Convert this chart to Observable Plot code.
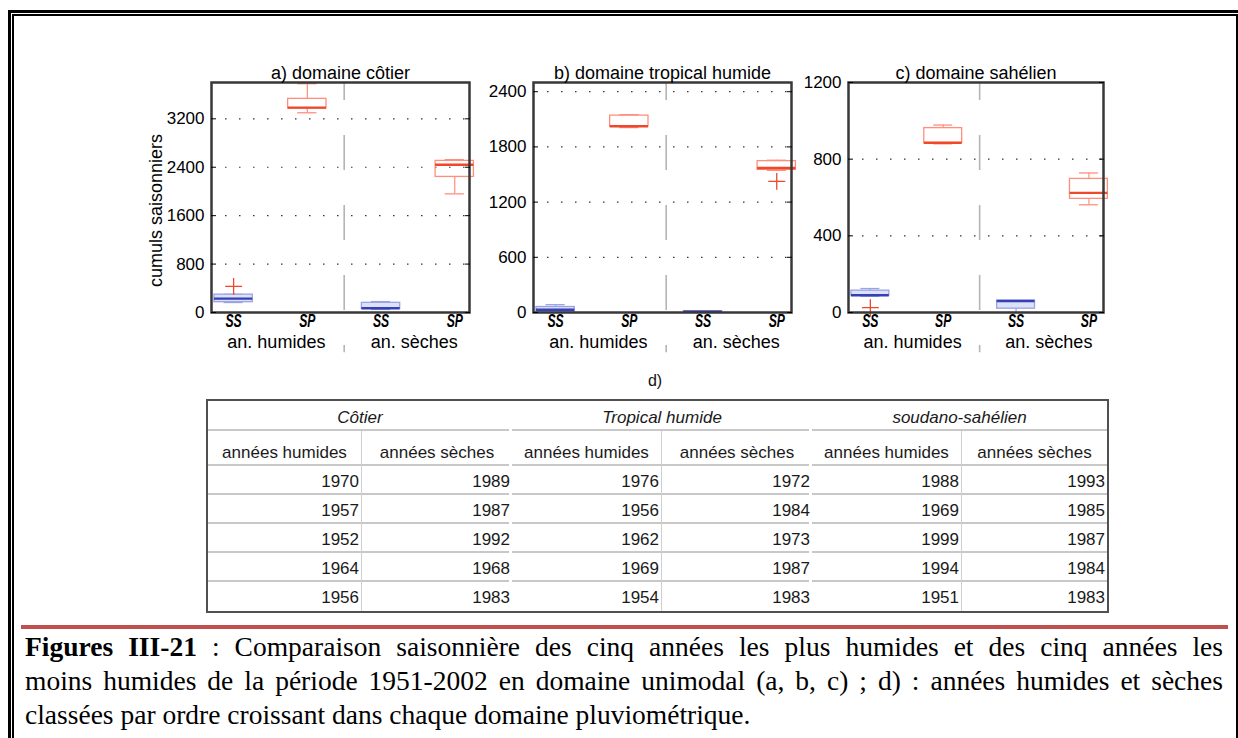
<!DOCTYPE html>
<html><head><meta charset="utf-8">
<script src="https://cdn.jsdelivr.net/npm/d3@7"></script>
<script src="https://cdn.jsdelivr.net/npm/@observablehq/plot@0.6"></script>
<style>
html,body{margin:0;padding:0;background:#fff;}
body{width:1238px;height:738px;position:relative;overflow:hidden;font-family:"Liberation Sans",Arial,sans-serif;}
.b{position:absolute;background:#000;}
.panel{position:absolute;top:55px;}
#dlabel{position:absolute;left:630px;top:372px;width:50px;text-align:center;font-size:16px;color:#111;}
table.t{position:absolute;left:206px;top:399px;border-collapse:separate;border-spacing:0;border:2.5px solid #505050;font-size:17px;color:#1a1a1a;table-layout:fixed;}
table.t td{padding:0 3px 3px 3px;vertical-align:bottom;white-space:nowrap;
  background-image:linear-gradient(#c8c8c8,#c8c8c8);background-repeat:no-repeat;background-size:100% 2px;background-position:left bottom;}
table.t td.ge{background-size:calc(100% - 3px) 2px;}
table.t td.h{border-right:1.5px solid #cfcfcf;}
table.t tr.last td{background-image:none;}
table.t tr.grp td{font-style:italic;text-align:center;height:27px;}
table.t tr.sub td{text-align:center;height:32px;}
table.t tr.dat td{text-align:right;height:26px;padding-right:2px;}
#redline{position:absolute;left:21px;top:625px;width:1207px;height:3.5px;background:#c0504d;}
#caption{position:absolute;left:25px;top:630px;width:1198px;font-family:"Liberation Serif","Times New Roman",serif;font-size:27.5px;line-height:34px;color:#000;}
#caption div{text-align:justify;text-align-last:justify;white-space:nowrap;}
#caption div.l3{text-align-last:left;}
</style></head><body>
<div class="b" style="left:8px;top:10px;width:1230px;height:2.5px"></div>
<div class="b" style="left:8px;top:10px;width:2.5px;height:728px"></div>
<div class="b" style="left:12px;top:14px;width:1226px;height:2px"></div>
<div class="b" style="left:12px;top:14px;width:2px;height:724px"></div>
<div class="b" style="left:1236px;top:14px;width:2px;height:724px"></div>

<div id="pa" class="panel" style="left:130px"></div>
<div id="pb" class="panel" style="left:480px"></div>
<div id="pc" class="panel" style="left:800px"></div>

<div id="dlabel">d)</div>
<table class="t" id="tbl"></table>

<div id="redline"></div>
<div id="caption"></div>

<script>
// ---------- data ----------
const boxCategories = ["SS", "SP", "SS", "SP"];
const groupLabels = ["an. humides", "an. sèches"];
const panelTitles = ["a) domaine côtier", "b) domaine tropical humide", "c) domaine sahélien"];
const yLabel = "cumuls saisonniers";

const yTicksA = [0, 800, 1600, 2400, 3200];
const yTicksB = [0, 600, 1200, 1800, 2400];
const yTicksC = [0, 400, 800, 1200];
const yMaxA = 3800, yMaxB = 2500, yMaxC = 1200;

// five-number summaries [min, q1, median, q3, max] for SS hum, SP hum, SS sec, SP sec
const statsA = [[165, 170, 230, 295, 300], [3300, 3370, 3385, 3530, 3780], [50, 60, 70, 160, 180], [1960, 2240, 2440, 2505, 2525]];
const statsB = [[0, 5, 30, 60, 85], [2010, 2020, 2025, 2140, 2150], [0, 2, 8, 15, 18], [1545, 1550, 1570, 1645, 1655]];
const statsC = [[85, 88, 90, 114, 125], [880, 884, 886, 962, 978], [0, 20, 60, 62, 62], [562, 593, 624, 697, 728]];

const outlierBoxA = [1], outlierValA = [430];
const outlierBoxB = [4], outlierValB = [1425];
const outlierBoxC = [1], outlierValC = [25];

const tableGroups = ["Côtier", "Tropical humide", "soudano-sahélien"];
const tableSub = ["années humides", "années sèches"];
const yearsCotierHum = [1970, 1957, 1952, 1964, 1956];
const yearsCotierSec = [1989, 1987, 1992, 1968, 1983];
const yearsTropHum = [1976, 1956, 1962, 1969, 1954];
const yearsTropSec = [1972, 1984, 1973, 1987, 1983];
const yearsSahHum = [1988, 1969, 1999, 1994, 1951];
const yearsSahSec = [1993, 1985, 1987, 1984, 1983];

const captionBold = "Figures III-21";
const captionLines = [
  " : Comparaison saisonnière des cinq années les plus humides et des cinq années les",
  "moins humides de la période 1951-2002 en domaine unimodal (a, b, c) ; d) : années humides et sèches",
  "classées par ordre croissant dans chaque domaine pluviométrique."
];

// ---------- drawing ----------
const RED = "#ff8f7c", RED_MED = "#f0462a", BLUE = "#9aa3e4", BLUE_MED = "#3440b4", BLUE_FILL = "#dde1f7";
const halfW = 0.26, capW = 0.13;

function panel(el, opts) {
  const {stats, ticks, ymax, title, obox, oval, ml, mr, width, showYLabel} = opts;
  const data = stats.map((s, i) => ({pos: i + 1, cat: boxCategories[i], min: s[0], q1: s[1], med: s[2], q3: s[3], max: s[4]}));
  const outl = obox.map((b, i) => ({pos: b, v: oval[i]}));
  const col = d => d.cat === "SS" ? BLUE : RED;
  const mcol = d => d.cat === "SS" ? BLUE_MED : RED_MED;
  const marks = [
    Plot.gridY(ticks, {stroke: "#000", strokeOpacity: 0.8, strokeWidth: 1.2, strokeDasharray: "1.5,12.5"}),
    Plot.ruleX([2.5], {y1: ymax, y2: -ymax * 0.175, stroke: "#b5b5b5", strokeWidth: 1.6, strokeDasharray: "35,35", strokeDashoffset: 17, clip: false}),
    Plot.ruleX(data, {x: "pos", y1: "q3", y2: "max", stroke: col, strokeWidth: 1.2}),
    Plot.ruleX(data, {x: "pos", y1: "q1", y2: "min", stroke: col, strokeWidth: 1.2}),
    Plot.ruleY(data, {y: "max", x1: d => d.pos - capW, x2: d => d.pos + capW, stroke: col, strokeWidth: 1.3}),
    Plot.ruleY(data, {y: "min", x1: d => d.pos - capW, x2: d => d.pos + capW, stroke: col, strokeWidth: 1.3}),
    Plot.rect(data, {x1: d => d.pos - halfW, x2: d => d.pos + halfW, y1: "q1", y2: "q3", fill: d => d.cat === "SS" ? BLUE_FILL : "none", stroke: col, strokeWidth: 1.3}),
    Plot.ruleY(data, {y: "med", x1: d => d.pos - halfW, x2: d => d.pos + halfW, stroke: mcol, strokeWidth: 2.4}),
    Plot.dot(outl, {x: "pos", y: "v", symbol: "plus", r: 5.5, stroke: RED_MED, strokeWidth: 1.3}),
    Plot.frame({stroke: "#383838", strokeWidth: 2.5}),
    Plot.axisY(ticks, {anchor: "left", tickSize: -5, tickPadding: 12, fontSize: 17, label: null, stroke: "#000", tickFormat: d => String(d)}),
    Plot.axisY(ticks, {anchor: "right", tickSize: -5, tickFormat: () => "", label: null, stroke: "#000"}),
    Plot.text(data, {x: "pos", text: "cat", frameAnchor: "bottom", lineAnchor: "top", dy: 1.5, fontSize: 19, fontStyle: "italic", fontWeight: "bold", fill: "#000"}),
    Plot.text(groupLabels, {x: (d, i) => [1.58, 3.45][i], text: d => d, frameAnchor: "bottom", lineAnchor: "middle", dy: 30, fontSize: 18, fill: "#000"}),
    Plot.text([title], {text: d => d, frameAnchor: "top", lineAnchor: "middle", dy: -9, fontSize: 18, fill: "#000"})
  ];
  if (showYLabel) marks.push(Plot.text([yLabel], {text: d => d, frameAnchor: "left", textAnchor: "middle", rotate: -90, dx: -55, dy: 13, fontSize: 18, fill: "#000"}));
  const svg = Plot.plot({
    width, height: 305,
    marginLeft: ml, marginRight: mr, marginTop: 27, marginBottom: 48,
    x: {domain: [0.7, 4.2], axis: null},
    y: {domain: [0, ymax], axis: null},
    style: {fontFamily: "Liberation Sans, Arial, sans-serif", background: "transparent", overflow: "visible"},
    marks
  });
  // condense the SS / SP tick labels (narrow font of the original)
  svg.querySelectorAll("text").forEach(t => {
    if (t.textContent === "SS" || t.textContent === "SP") {
      let tr = t.getAttribute("transform");
      if (!tr) {
        const x = t.getAttribute("x") || 0, y = t.getAttribute("y") || 0;
        t.removeAttribute("x"); t.removeAttribute("y");
        tr = `translate(${x},${y})`;
      }
      t.setAttribute("transform", tr + " scale(0.64,1)");
    }
  });
  document.getElementById(el).appendChild(svg);
}

panel("pa", {stats: statsA, ticks: yTicksA, ymax: yMaxA, title: panelTitles[0], obox: outlierBoxA, oval: outlierValA, ml: 81, mr: 11, width: 350, showYLabel: true});
panel("pb", {stats: statsB, ticks: yTicksB, ymax: yMaxB, title: panelTitles[1], obox: outlierBoxB, oval: outlierValB, ml: 53, mr: 9, width: 320});
panel("pc", {stats: statsC, ticks: yTicksC, ymax: yMaxC, title: panelTitles[2], obox: outlierBoxC, oval: outlierValC, ml: 48, mr: 17, width: 320});

// ---------- table ----------
const cols = [yearsCotierHum, yearsCotierSec, yearsTropHum, yearsTropSec, yearsSahHum, yearsSahSec];
const colW = [154, 150, 150, 150, 150, 145];
const tbl = document.getElementById("tbl");
let html = "<colgroup>" + colW.map(w => `<col style="width:${w}px">`).join("") + "</colgroup>";
html += "<tr class='grp'>" + tableGroups.map((g, i) => `<td colspan="2" class="${i < 2 ? "ge" : ""}">${g}</td>`).join("") + "</tr>";
html += "<tr class='sub'>" + cols.map((c, j) => `<td class="${j % 2 === 0 ? "h" : (j < 5 ? "ge" : "")}">${tableSub[j % 2]}</td>`).join("") + "</tr>";
for (let r = 0; r < 5; r++) {
  html += `<tr class='dat${r === 4 ? " last" : ""}'>` + cols.map((c, j) => `<td class="${j % 2 === 0 ? "h" : (j < 5 ? "ge" : "")}">${c[r]}</td>`).join("") + "</tr>";
}
tbl.innerHTML = html;

// ---------- caption ----------
const cap = document.getElementById("caption");
cap.innerHTML = `<div><b>${captionBold}</b>${captionLines[0]}</div><div>${captionLines[1]}</div><div class="l3">${captionLines[2]}</div>`;
</script>
</body></html>
